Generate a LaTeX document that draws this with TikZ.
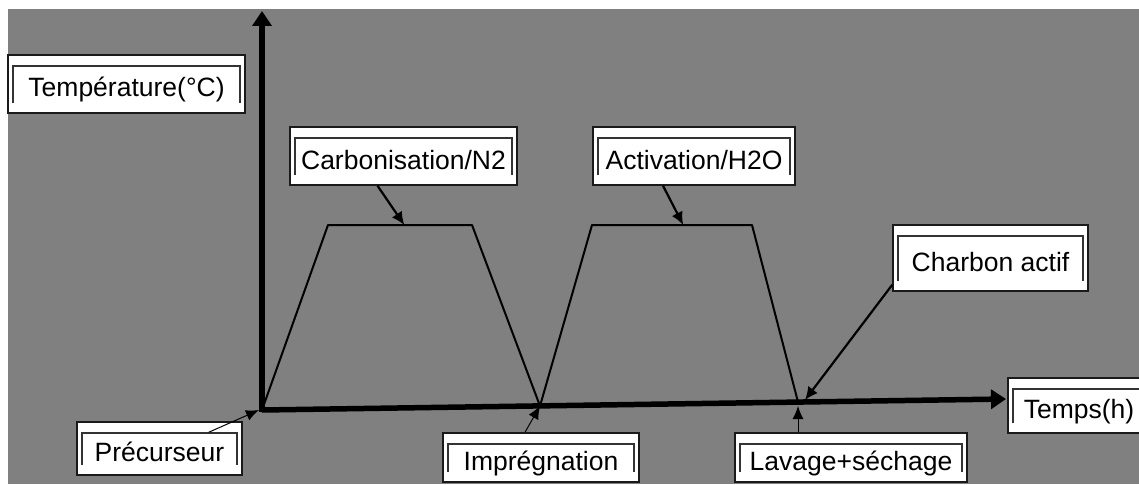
\documentclass[tikz,border=0pt]{standalone}
\usepackage{fontspec}
\setmainfont{Liberation Sans}
\usetikzlibrary{arrows.meta,calc}
\definecolor{bggray}{HTML}{808080}
\definecolor{boxline}{HTML}{1A1A1A}
\tikzset{
  lbl/.style={draw=boxline, line width=1.5pt, fill=white, inner sep=0pt,
    text height=30pt, text depth=4pt, font=\fontsize{26.5}{30}\selectfont,
    path picture={\draw[line width=1.3pt, black!80]
      ([shift={(5pt,10pt)}]path picture bounding box.south west)
      |- ([shift={(-5pt,-11pt)}]path picture bounding box.north east)
      -- ([shift={(-5pt,10pt)}]path picture bounding box.south east);}},
  axis/.style={line width=5.5pt, -{Triangle[length=15pt,width=19pt]}},
  curve/.style={line width=2pt, line join=round},
  flow/.style={line width=2.2pt, -{Latex[length=13pt,width=12pt]}},
  thinflow/.style={line width=1pt, -{Latex[length=13pt,width=11pt]}},
}
\begin{document}
\begin{tikzpicture}[x=1pt, y=-1pt]
\useasboundingbox (0,0) rectangle (1139,484);
\clip (0,0) rectangle (1139,484);
\fill[white] (0,0) rectangle (1139,484);
\fill[bggray] (8,9) rectangle (1139,484);

% ---- axes and the two temperature plateaus ----
\coordinate (o) at (262,410);
\coordinate (ytop) at (262,11);
\coordinate (xend) at (1006,399);
\coordinate (c1) at (328,225);
\coordinate (c2) at (472,225);
\coordinate (p2) at (540,406);
\coordinate (a1) at (592,225);
\coordinate (a2) at (752,225);
\coordinate (p3) at (798,402);
\draw[curve] (o) -- (c1) -- (c2) -- (p2) -- (a1) -- (a2) -- (p3);
\draw[axis] (o) -- (xend);
\draw[axis] ([yshift=-2pt]o) -- (ytop);

% ---- labels ----
\node[lbl, minimum width=237pt, minimum height=58pt] (temp) at (126.5,84) {Température(°C)};
\node[lbl, minimum width=227pt, minimum height=58pt] (carb) at (403.5,156) {Carbonisation/N2};
\node[lbl, minimum width=202pt, minimum height=58pt] (activ) at (694,156) {Activation/H2O};
\node[lbl, minimum width=195pt, minimum height=66pt] (charb) at (990.5,258) {Charbon actif};
\node[lbl, minimum width=142pt, minimum height=55pt] (temps) at (1079,405.5) {Temps(h)};
\node[lbl, minimum width=165pt, minimum height=53pt] (prec) at (159.5,448.5) {Précurseur};
\node[lbl, minimum width=196pt, minimum height=49pt] (impr) at (541,457.5) {Imprégnation};
\node[lbl, minimum width=232pt, minimum height=49pt] (lav) at (851,457.5) {Lavage+séchage};

% ---- arrows ----
\draw[flow] ([xshift=-26pt]carb.south) -- ($(c1)!0.53!(c2)$);
\draw[flow] ([xshift=-31pt]activ.south) -- ($(a1)!0.57!(a2)$);
\draw[flow] ([yshift=7pt]charb.south west) -- ([shift={(7pt,2pt)}]p3);
\draw[thinflow] ($(prec.north east)+(-34pt,-11pt)$) -- ([xshift=-3pt]o);
\draw[thinflow] ([xshift=-16pt]impr.north) -- (p2);
\draw[thinflow] ([xshift=-53pt]lav.north) -- ([yshift=-4pt]p3);
\end{tikzpicture}
\end{document}
